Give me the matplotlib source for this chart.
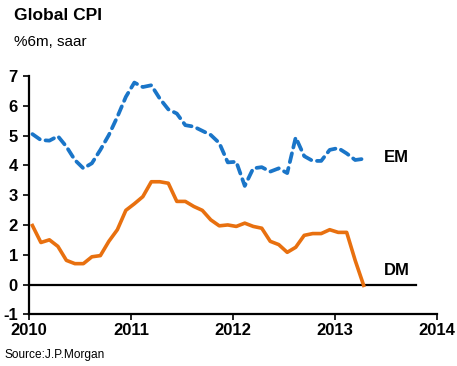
import matplotlib
matplotlib.use("Agg")
import matplotlib.pyplot as plt
import numpy as np

# monthly, Jan 2010 - Apr 2013
em = [5.05, 4.85, 4.83, 4.98, 4.63, 4.18, 3.90, 4.07, 4.52, 5.02, 5.63, 6.30,
      6.78, 6.63, 6.69, 6.24, 5.88, 5.74, 5.35, 5.30, 5.16, 5.02, 4.75, 4.10,
      4.12, 3.31, 3.90, 3.94, 3.79, 3.90, 3.74, 4.94, 4.31, 4.15, 4.15, 4.52,
      4.58, 4.40, 4.18, 4.22]
dm = [1.98, 1.41, 1.50, 1.28, 0.81, 0.70, 0.70, 0.93, 0.97, 1.45, 1.84, 2.49,
      2.71, 2.95, 3.45, 3.45, 3.40, 2.79, 2.79, 2.62, 2.49, 2.17, 1.97, 2.00,
      1.95, 2.06, 1.95, 1.89, 1.45, 1.34, 1.08, 1.25, 1.65, 1.71, 1.71, 1.84,
      1.75, 1.75, 0.81, -0.03]
years = [2010, 2011, 2012, 2013, 2014]
yticks = [-1, 0, 1, 2, 3, 4, 5, 6, 7]

t = 2010 + (np.arange(len(em)) + 0.4) / 12

plt.rcParams['font.family'] = ['Liberation Sans', 'DejaVu Sans']

fig = plt.figure(figsize=(4.57, 3.66), dpi=100)
ax = fig.add_axes([0.0635, 0.1413, 0.8921, 0.651])

ax.plot([2010, 2013.8], [0, 0], color='black', lw=1.6, zorder=1)
l1, = ax.plot(t, em, color='#1a75c8', lw=2.7, dash_capstyle='round',
              zorder=3)
l1.set_dashes((2.4, 1.6))
ax.plot(t, dm, color='#e8700f', lw=2.6, zorder=3)

ax.text(2013.48, 4.25, 'EM', fontsize=12, fontweight='bold',
        va='center', ha='left')
ax.text(2013.48, 0.48, 'DM', fontsize=12, fontweight='bold',
        va='center', ha='left')

ax.set_xlim(2010, 2014)
ax.set_ylim(-1, 7)
ax.set_xticks(years)
ax.set_xticklabels([str(y) for y in years], fontweight='bold', fontsize=12)
ax.set_yticks(yticks)
ax.set_yticklabels([str(v) for v in yticks], fontweight='bold', fontsize=12)
ax.tick_params(axis='both', direction='out', length=4, width=1.2, color='black')
ax.tick_params(axis='y', pad=4)
ax.tick_params(axis='x', pad=2)

for s in ['top', 'right']:
    ax.spines[s].set_visible(False)
for s in ['left', 'bottom']:
    ax.spines[s].set_linewidth(1.6)

fig.text(0.031, 0.945, 'Global CPI', fontsize=12.5, fontweight='bold')
fig.text(0.031, 0.874, '%6m, saar', fontsize=11)
fig.text(0.009, 0.022, 'Source:J.P.Morgan', fontsize=8.6)

fig.savefig('out.png', dpi=100)
